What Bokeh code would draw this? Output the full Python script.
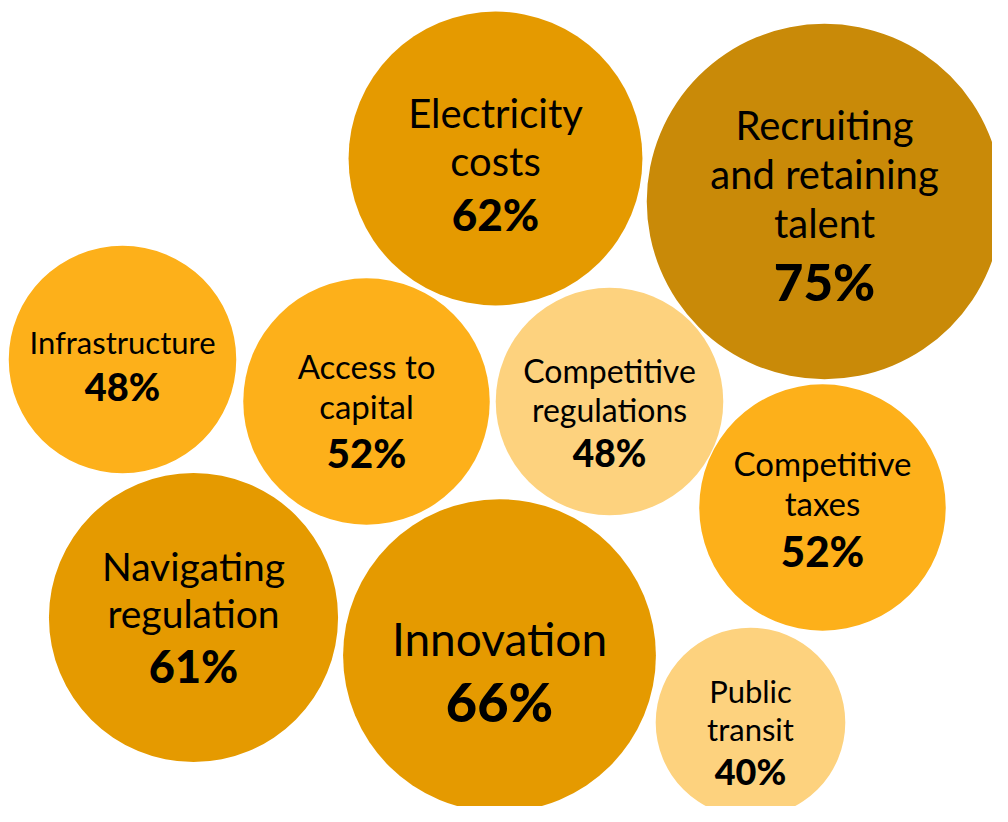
from bokeh.plotting import figure
from bokeh.models import Range1d, ColumnDataSource
from bokeh.core.properties import value
from bokeh.embed import file_html
from bokeh.resources import INLINE

# ---- data ----
categories = ["Electricity costs", "Recruiting and retaining talent", "Infrastructure",
              "Access to capital", "Competitive regulations", "Competitive taxes",
              "Navigating regulation", "Innovation", "Public transit"]
label_lines = [["Electricity", "costs"], ["Recruiting", "and retaining", "talent"],
               ["Infrastructure"], ["Access to", "capital"], ["Competitive", "regulations"],
               ["Competitive", "taxes"], ["Navigating", "regulation"], ["Innovation"],
               ["Public", "transit"]]
percent_values = [62, 75, 48, 52, 48, 52, 61, 66, 40]

# ---- layout (bubble centres, page pixels) ----
center_x = [495, 824, 122, 366, 609, 822, 193, 499, 750]
center_y = [158, 201, 359, 401, 401, 507, 617, 655, 722]
radius_per_pct = 2.37

# ---- styles ----
fill_colors = ["#E59A00", "#C98A08", "#FDB01A", "#FDB01A", "#FDD27E",
               "#FDB01A", "#E59A00", "#E59A00", "#FDD27E"]
label_sizes = [40, 40, 31, 33, 32, 33, 39, 46, 31]
pct_sizes = [44, 51, 38, 40, 37, 42, 45, 54, 36]
text_shift = [4.5, 3, 5.5, 8.5, 10, 0.5, -1.5, 15, 8.5]
LINE = 1.22
CAP = 0.72
BASE_FIX = 0.34  # renderer places the alphabetic baseline this many em lower

bubbles = ColumnDataSource(dict(
    x=center_x, y=center_y,
    r=[v * radius_per_pct for v in percent_values],
    color=fill_colors, name=categories))

lx, ly, lt, ls = [], [], [], []
px, py, pt, ps = [], [], [], []
for i, lines in enumerate(label_lines):
    fl, fp = label_sizes[i], pct_sizes[i]
    n = len(lines)
    H = CAP * fl + (n - 1) * LINE * fl + LINE * fp
    start = center_y[i] + text_shift[i] - H / 2 + CAP * fl
    for j, t in enumerate(lines):
        lx.append(center_x[i]); ly.append(start + j * LINE * fl - BASE_FIX * fl)
        lt.append(t); ls.append(f"{fl}px")
    px.append(center_x[i])
    py.append(start + (n - 1) * LINE * fl + LINE * fp - BASE_FIX * fp)
    pt.append(f"{percent_values[i]}%"); ps.append(f"{fp}px")

labels = ColumnDataSource(dict(x=lx, y=ly, text=lt, size=ls))
pcts = ColumnDataSource(dict(x=px, y=py, text=pt, size=ps))

p = figure(width=992, height=806, output_backend="svg", toolbar_location=None,
           x_range=Range1d(0, 992), y_range=Range1d(806, 0),
           min_border=0, outline_line_color=None, background_fill_color="white",
           border_fill_color="white")
p.axis.visible = False
p.grid.visible = False

p.circle(x="x", y="y", radius="r", source=bubbles, fill_color="color",
         line_color=None)
p.text(x="x", y="y", text="text", source=labels, text_font=value("Lato"),
       text_font_size="size", text_align="center", text_baseline="alphabetic",
       text_color="#000000")
p.text(x="x", y="y", text="text", source=pcts, text_font=value("Lato Black, Lato"),
       text_font_size="size", text_font_style="bold", text_align="center",
       text_baseline="alphabetic", text_color="#000000")

open("out.html", "w").write(file_html(p, INLINE))
